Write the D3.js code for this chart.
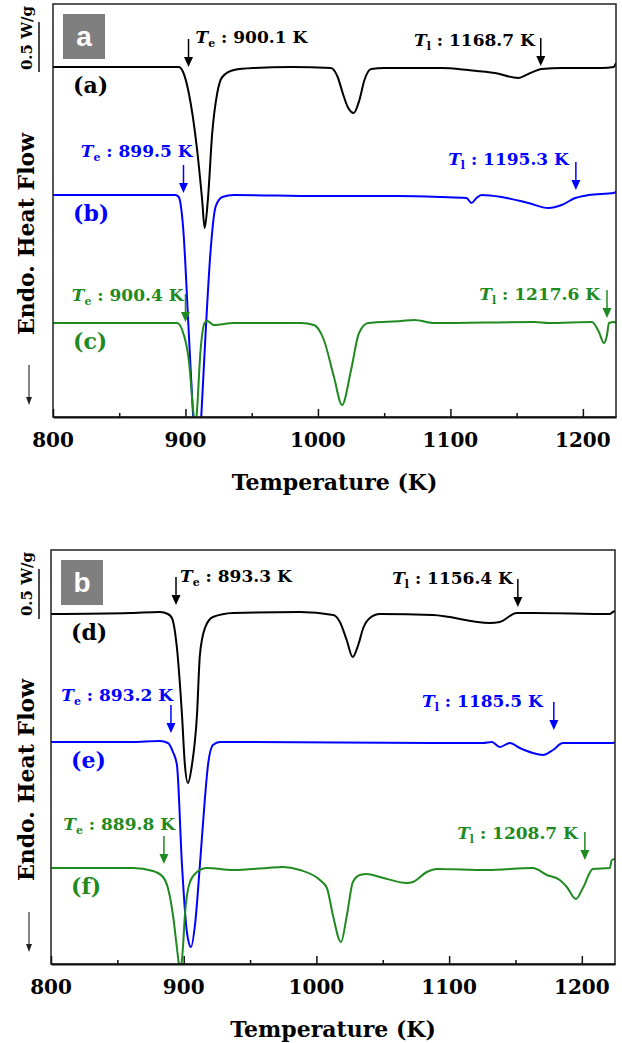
<!DOCTYPE html>
<meta charset="utf-8">
<script src="https://cdnjs.cloudflare.com/ajax/libs/d3/7.8.5/d3.min.js"></script>
<style>
body { margin: 0; background: #fff; }
text { font-family: "DejaVu Serif", serif; font-weight: bold; }
text.tag { font-family: "Liberation Sans", Arial, sans-serif; }
</style>
<body>
<script>

// DSC traces: [temperature (K), heat flow (W/g, curves shifted)]
var curveA = [[800,3.50],[850,3.50],[880,3.50],[894.9,3.50],[898.2,3.45],[902.5,3.24],[908.8,2.67],[912.6,2.17],[914.5,1.89],[916.9,2.17],[920.2,2.84],[924,3.24],[927.8,3.40],[936.6,3.47],[951.5,3.49],[980,3.50],[1009.8,3.49],[1014.9,3.40],[1018.7,3.24],[1022.5,3.10],[1027,3.04],[1031.3,3.17],[1035.1,3.37],[1040.2,3.48],[1050.2,3.49],[1093.2,3.49],[1113.4,3.47],[1133.6,3.44],[1151.3,3.39],[1158.8,3.43],[1169,3.48],[1184,3.49],[1214.4,3.49],[1223.2,3.50],[1225,3.54]];
var curveB = [[800,2.22],[860,2.22],[892.4,2.22],[894.9,2.20],[898.2,1.90],[902.5,0.84],[905.8,0.00],[907.6,-0.40],[908.8,-0.55],[910.1,-0.40],[911.9,0.00],[915.2,0.84],[919,1.67],[922.7,2.10],[927.8,2.20],[936.6,2.22],[1000,2.21],[1060,2.21],[1093.2,2.20],[1112.1,2.19],[1115.9,2.14],[1119.7,2.19],[1123.5,2.22],[1138.6,2.20],[1158.8,2.14],[1174,2.09],[1184,2.12],[1194.2,2.19],[1204.3,2.22],[1223.2,2.24],[1225,2.25]];
var curveC = [[800,0.94],[860,0.94],[893.7,0.94],[897.5,0.87],[902.5,0.57],[906.3,0.00],[907.2,-0.10],[908.3,0.00],[911.4,0.67],[914.4,0.94],[916.4,0.96],[921.4,0.92],[936.6,0.94],[987,0.94],[997,0.92],[1004.5,0.77],[1012.1,0.40],[1018.2,0.12],[1025,0.47],[1031,0.84],[1037.9,0.94],[1062.9,0.96],[1072.7,0.97],[1087.9,0.94],[1163.6,0.95],[1174.2,0.94],[1206.8,0.95],[1212.1,0.85],[1215.9,0.74],[1218.2,0.82],[1219.7,0.94],[1223.5,0.95],[1225,0.94]];

var curveD = [[800,3.50],[860,3.51],[882.1,3.52],[888.1,3.50],[891.1,3.46],[894.9,3.16],[898.7,2.49],[900.9,1.99],[903.2,1.81],[906.2,1.99],[910,2.49],[912.2,3.09],[916,3.36],[922,3.47],[937.1,3.51],[987.6,3.52],[1012.7,3.49],[1017.7,3.42],[1022.8,3.24],[1027.3,3.07],[1031.5,3.19],[1035.3,3.36],[1040.3,3.46],[1047.8,3.50],[1087.8,3.49],[1130.7,3.41],[1138.2,3.42],[1151,3.51],[1163.1,3.51],[1221,3.50],[1223.4,3.52],[1225,3.53]];
var curveE = [[800,2.22],[860,2.22],[882.1,2.23],[888.1,2.21],[891.9,2.12],[894.9,1.99],[898.7,0.99],[902.4,0.32],[905.5,0.17],[908.5,0.39],[912.2,0.99],[916,1.66],[918.3,1.99],[922,2.19],[927.3,2.22],[937.1,2.22],[1087.8,2.21],[1125.4,2.21],[1132.2,2.22],[1138.2,2.17],[1145.8,2.21],[1153.3,2.16],[1163.1,2.11],[1170.6,2.09],[1178.2,2.14],[1185.7,2.21],[1223.4,2.21],[1225,2.22]];
var curveF = [[800,0.96],[861.8,0.96],[876.8,0.93],[884.4,0.87],[888.1,0.76],[891.9,0.49],[894.9,0.16],[896.4,0.00],[897.3,-0.06],[898.3,0.00],[899.4,0.16],[900.9,0.49],[904.7,0.82],[910,0.92],[917.5,0.96],[937.1,0.94],[962.7,0.96],[974.8,0.97],[987.6,0.94],[1002.6,0.84],[1007.9,0.76],[1012.4,0.49],[1018.5,0.22],[1023,0.49],[1027.5,0.82],[1032.8,0.89],[1038,0.90],[1047.8,0.87],[1068.2,0.81],[1072.7,0.82],[1083.2,0.92],[1090.8,0.95],[1128.4,0.94],[1163.1,0.96],[1173.6,0.89],[1183.4,0.84],[1188.7,0.77],[1195.5,0.65],[1200.8,0.76],[1208.3,0.95],[1221,0.96],[1222.6,1.04],[1225,1.05]];

var panelNames = ["a", "b"];
var seriesNames = ["(a)", "(b)", "(c)", "(d)", "(e)", "(f)"];
var seriesColors = ["#000000", "#0000ff", "#1f8a1f"];
var xTicks = [800, 900, 1000, 1100, 1200];

// onset (Te) and liquidus (Tl) temperatures, and where the arrows sit in the figure
var onsetK = ["900.1", "899.5", "900.4", "893.3", "893.2", "889.8"];
var liquidusK = ["1168.7", "1195.3", "1217.6", "1156.4", "1185.5", "1208.7"];
var onsetArrowT = [902.3, 898.5, 900.0, 894.2, 890.4, 885.1];
var liquidusArrowT = [1168.2, 1194.7, 1218.2, 1151.8, 1178.9, 1202.3];
var onsetArrowTip = [3.50, 2.24, 0.95, 3.59, 2.31, 1.00];
var liquidusArrowTip = [3.51, 2.27, 0.99, 3.57, 2.34, 1.04];

var curves = [curveA, curveB, curveC, curveD, curveE, curveF];

// layout
var W = 622, H = 1043;
var panels = [
  {top: 4, bottom: 417, left: 53, right: 616},
  {top: 550, bottom: 964, left: 51, right: 615}
];
// text placement relative to arrow top: [anchor, dx, dy]
var onsetText = [["start",7,4],["end",9,-8],["end",-2,7],["start",4,5],["end",2,-4],["end",11,-6]];
var liquidusText = [["end",-6,8],["end",-7,3],["end",-7,10],["end",-5,5],["end",-11,5],["end",-7,7]];

var svg = d3.select("body").append("svg")
  .attr("width", W)
  .attr("height", H);

panels.forEach(function(p, pi) {
  var x = d3.scaleLinear().domain([800, 1225]).range([p.left, p.right]);
  var y = d3.scaleLinear().domain([0, (p.bottom - p.top) / 100]).range([p.bottom, p.top]);

  var g = svg.append("g");

  g.append("clipPath").attr("id", "clip" + pi)
    .append("rect")
    .attr("x", p.left).attr("y", p.top)
    .attr("width", p.right - p.left).attr("height", p.bottom - p.top);

  // curves
  var line = d3.line()
    .x(function(d) { return x(d[0]); })
    .y(function(d) { return y(d[1]); })
    .curve(d3.curveMonotoneX);

  for (var s = 0; s < 3; s++) {
    var idx = pi * 3 + s;
    g.append("path")
      .datum(curves[idx])
      .attr("clip-path", "url(#clip" + pi + ")")
      .attr("fill", "none")
      .attr("stroke", seriesColors[s])
      .attr("stroke-width", 2)
      .attr("stroke-linejoin", "round")
      .attr("d", line);
  }

  // frame
  g.append("rect")
    .attr("x", p.left).attr("y", p.top)
    .attr("width", p.right - p.left).attr("height", p.bottom - p.top)
    .attr("fill", "none").attr("stroke", "#222").attr("stroke-width", 1.5);

  // x axis, ticks inside
  var axis = g.append("g").attr("transform", "translate(0," + p.bottom + ")")
    .call(d3.axisBottom(x).tickValues(d3.range(800, 1226, 50)).tickSize(0).tickFormat(""));
  axis.select(".domain").attr("stroke", "#111").attr("stroke-width", 2);
  axis.selectAll(".tick line")
    .attr("y2", function(d) { return d % 100 === 0 ? -8 : -4; })
    .attr("stroke", "#111").attr("stroke-width", 1.5);

  g.selectAll(".ticklabel").data(xTicks).enter().append("text")
    .attr("x", function(d) { return x(d); })
    .attr("y", p.bottom + 30)
    .attr("text-anchor", "middle")
    .attr("font-size", 20)
    .text(function(d) { return d; });

  g.append("text")
    .attr("x", (p.left + p.right) / 2)
    .attr("y", p.bottom + 73)
    .attr("text-anchor", "middle")
    .attr("font-size", 22)
    .text("Temperature (K)");

  // y label, scale bar, direction arrow
  g.append("text")
    .attr("transform", "translate(34," + (p.top + 230) + ") rotate(-90)")
    .attr("text-anchor", "middle")
    .attr("font-size", 22)
    .text("Endo. Heat Flow");

  g.append("text")
    .attr("transform", "translate(32," + (p.top + 34) + ") rotate(-90)")
    .attr("text-anchor", "middle")
    .attr("font-size", 15)
    .text("0.5 W/g");
  g.append("line")
    .attr("x1", 39).attr("x2", 39)
    .attr("y1", y(3.45)).attr("y2", y(3.95))
    .attr("stroke", "#111").attr("stroke-width", 1.5);

  g.append("line")
    .attr("x1", 29).attr("x2", 29)
    .attr("y1", p.bottom - 52).attr("y2", p.bottom - 18)
    .attr("stroke", "#333").attr("stroke-width", 1.2);
  g.append("path")
    .attr("d", "M" + 26 + "," + (p.bottom - 20) + "L32," + (p.bottom - 20) + "L29," + (p.bottom - 12) + "Z")
    .attr("fill", "#222");

  // panel tag
  g.append("rect")
    .attr("x", p.left + 10).attr("y", p.top + 10)
    .attr("width", 42).attr("height", 45)
    .attr("fill", "#7f7f7f");
  g.append("text")
    .attr("class", "tag")
    .attr("x", p.left + 31).attr("y", p.top + 42)
    .attr("text-anchor", "middle")
    .attr("font-size", 28)
    .attr("fill", "#fff")
    .text(panelNames[pi]);

  // series names
  for (var s2 = 0; s2 < 3; s2++) {
    var i2 = pi * 3 + s2;
    g.append("text")
      .attr("x", p.left + 20)
      .attr("y", y(curves[i2][0][1]) + 26)
      .attr("font-size", 22)
      .attr("fill", seriesColors[s2])
      .text(seriesNames[i2]);
  }

  // arrows + Te / Tl labels
  function marker(T, tip, sub, val, pos, col) {
    var ax = x(T), ay = y(tip), top = ay - 28;
    g.append("line")
      .attr("x1", ax).attr("x2", ax)
      .attr("y1", top).attr("y2", ay - 8)
      .attr("stroke", col).attr("stroke-width", 1.5);
    g.append("path")
      .attr("d", "M" + (ax - 4.5) + "," + (ay - 10) + "L" + (ax + 4.5) + "," + (ay - 10) + "L" + ax + "," + ay + "Z")
      .attr("fill", col);
    var t = g.append("text")
      .attr("x", ax + pos[1])
      .attr("y", top + pos[2])
      .attr("text-anchor", pos[0])
      .attr("font-size", 17)
      .attr("fill", col);
    t.append("tspan").attr("font-style", "italic").text("T");
    t.append("tspan").attr("font-size", 11).attr("dy", 4).text(sub);
    t.append("tspan").attr("dy", -4).text(" : " + val + " K");
  }

  for (var s3 = 0; s3 < 3; s3++) {
    var i3 = pi * 3 + s3;
    marker(onsetArrowT[i3], onsetArrowTip[i3], "e", onsetK[i3], onsetText[i3], seriesColors[s3]);
    marker(liquidusArrowT[i3], liquidusArrowTip[i3], "l", liquidusK[i3], liquidusText[i3], seriesColors[s3]);
  }
});

</script>
</body>
</html>
